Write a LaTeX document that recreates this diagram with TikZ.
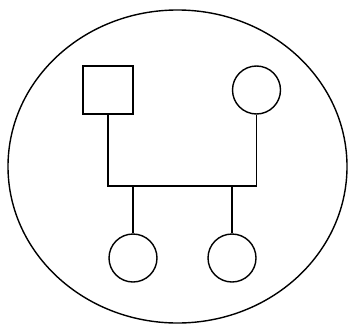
\documentclass[tikz,border=0pt]{standalone}
\usetikzlibrary{shapes.geometric}
\begin{document}
\begin{tikzpicture}[x=1pt,y=1pt,line width=1.4pt,
  male/.style={draw,rectangle,minimum width=50pt,minimum height=48pt,inner sep=0pt},
  female/.style={draw,circle,minimum size=48pt,inner sep=0pt}]
\useasboundingbox (0,0) rectangle (350,325);
\node[draw,ellipse,minimum width=339pt,minimum height=313pt,inner sep=0pt] (outer) at (177.5,158.5) {};
\node[male] (father) at (108,235) {};
\node[female] (mother) at (256.5,235) {};
\node[female] (d1) at (133,67) {};
\node[female] (d2) at (232,67) {};
\coordinate (bl) at (108,139);
\coordinate (br) at (256.5,139);
\coordinate (c1) at (133,139);
\coordinate (c2) at (232,139);
\draw (father.south) -- (bl) -- (br) -- (mother.south);
\draw (c1) -- (d1.north);
\draw (c2) -- (d2.north);
\end{tikzpicture}
\end{document}
